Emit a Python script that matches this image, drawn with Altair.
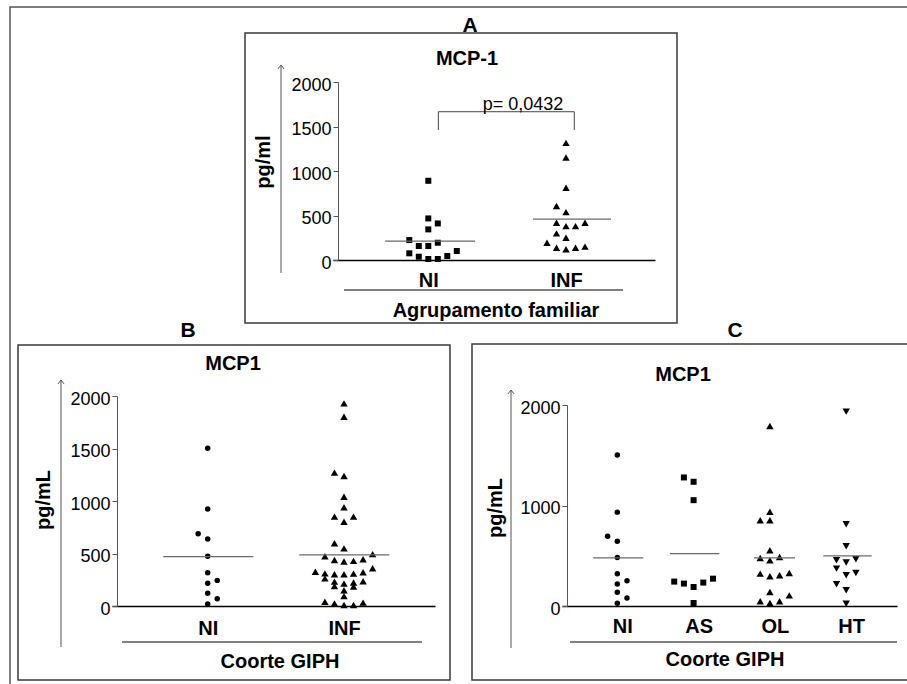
import pandas as pd
import altair as alt

W, H = 907, 684
FONT = "Liberation Sans"

# ---------------- values ----------------
# Panel A  (MCP-1, Agrupamento familiar)
A_CATEGORIES = ["NI", "INF"]
A_NI_VALUES = [890, 467, 411, 344, 224, 194, 157, 157, 75, 101, 45, 37, 11, 11]
A_NI_LANES = [0, 0, 1, 0, -2, 1, -1, 0, -2, 3, 2, -1, 0, 1]
A_INF_VALUES = [1316, 1151, 811, 606, 538, 419, 381, 381, 419, 299, 250, 194, 138, 120, 138, 150]
A_INF_LANES = [0, 0, 0, -1, 0, -1, 0, 1, 2, -1, 0, -2, -1, 0, 1, 2]
A_MEDIANS = [213, 460]
A_MEDIAN_SPAN = [[-0.314, 0.339], [-0.240, 0.327]]
A_TICKS = [0, 500, 1000, 1500, 2000]
A_BRACKET_X = [0.073, 0.073, 1.060, 1.060]
A_BRACKET_Y = [1461, 1666, 1666, 1461]
A_PVALUE = "p= 0,0432"

# Panel B  (MCP1, Coorte GIPH)
B_CATEGORIES = ["NI", "INF"]
B_NI_VALUES = [1502, 924, 689, 638, 473, 317, 244, 216, 121, 70, 19]
B_NI_LANES = [0, 0, -1, 0, 0, 0, 1, 0, 0, 1, 0]
B_INF_VALUES = [1930, 1803, 1270, 1238, 1041, 940, 851, 851, 803, 597, 549,
                494, 473, 438, 424, 430, 446,
                359, 327, 311, 303, 303, 308, 322,
                263, 232, 213, 224, 236,
                190, 150, 185, 95,
                41, 25, 10, 10, 32]
B_INF_LANES = [0, 0, -1, 0, 0, 0, -1, 1, 0, -1, 0,
               3, -2, -1, 0, 1, 2,
               3, -3, -2, -1, 0, 1, 2,
               -2, -1, 0, 1, 2,
               -1, 0, 1, 0,
               -2, -1, 0, 1, 2]
B_MEDIANS = [470, 486]
B_MEDIAN_SPAN = [[-0.326, 0.335], [-0.328, 0.332]]
B_TICKS = [0, 500, 1000, 1500, 2000]

# Panel C  (MCP1, Coorte GIPH by group)
C_CATEGORIES = ["NI", "AS", "OL", "HT"]
C_NI_VALUES = [1502, 934, 694, 645, 482, 322, 252, 219, 136, 80, 27]
C_NI_LANES = [0, 0, -1, 0, 0, 0, 1, 0, 0, 1, 0]
C_AS_VALUES = [1279, 1236, 1053, 243, 223, 189, 233, 272, 30]
C_AS_LANES = [-1, 0, 0, -2, -1, 0, 1, 2, 0]
C_OL_VALUES = [1791, 937, 854, 854, 555, 478, 455, 488, 322, 296, 306, 329, 140, 106, 47, 30, 47]
C_OL_LANES = [0, 0, -1, 0, 0, -1, 0, 1, -1, 0, 1, 2, 0, 2, -1, 0, 1]
C_HT_VALUES = [1934, 814, 595, 455, 432, 465, 372, 306, 329, 216, 156, 23]
C_HT_LANES = [0, 0, 0, -1, 0, 1, -1, 0, 1, -1, 0, 0]
C_MEDIANS = [478, 522, 478, 498]
C_MEDIAN_SPAN = [[-0.315, 0.341], [-0.309, 0.337], [-0.208, 0.329], [-0.300, 0.334]]
C_TICKS = [0, 1000, 2000]

# ---------------- layout (pixels) ----------------
PANELS = {
    "A": dict(xdom=[-0.6921, 1.6463], xrange=[333, 655], yrange=[260, 82],
              yaxis_at=338, xaxis_at=260, lane=0.069, label_pad=10, label_off=0),
    "B": dict(xdom=[-0.7021, 1.6676], xrange=[112, 435], yrange=[606, 396],
              yaxis_at=117, xaxis_at=606, lane=0.070, label_pad=12, label_off=0),
    "C": dict(xdom=[-0.7248, 3.6658], xrange=[562, 897], yrange=[606, 405],
              yaxis_at=567, xaxis_at=606, lane=0.127, label_pad=10, label_off=5),
}
AXIS_GREY = "#555555"
MEDIAN_GREY = "#6a6a6a"


def one_row():
    return pd.DataFrame({"k": [0]})


def scales(cfg):
    xs = alt.Scale(domain=cfg["xdom"], range=cfg["xrange"], nice=False, zero=False)
    ys = alt.Scale(domain=[0, 2000], range=cfg["yrange"], nice=False, zero=False)
    return xs, ys


def panel_layers(cfg, categories, ticks, groups, medians, spans):
    xs, ys = scales(cfg)
    layers = []
    for gi, (vals, lanes, shape, size) in enumerate(groups):
        df = pd.DataFrame({"x": [gi + l * cfg["lane"] for l in lanes], "v": vals})
        if gi == 0:
            expr = "[" + ",".join("'%s'" % c for c in categories) + "][round(datum.value)]"
            xax = alt.Axis(orient="bottom", offset=cfg["xaxis_at"] - H,
                           values=list(range(len(categories))), labelExpr=expr,
                           ticks=False, tickSize=0, grid=False, title=None,
                           domainColor="black", domainWidth=1.4,
                           labelFont=FONT, labelFontSize=20, labelFontWeight="bold",
                           labelColor="black", labelPadding=cfg["label_pad"],
                           labelOffset=cfg["label_off"], labelFlush=False)
            yax = alt.Axis(orient="left", offset=-cfg["yaxis_at"], values=ticks,
                           format="d", grid=False, title=None,
                           domainColor=AXIS_GREY, tickColor=AXIS_GREY, tickSize=5,
                           labelFont=FONT, labelFontSize=18, labelColor="black",
                           labelPadding=2, labelOffset=3)
            x_enc = alt.X("x:Q", scale=xs, axis=xax)
            y_enc = alt.Y("v:Q", scale=ys, axis=yax)
        else:
            x_enc = alt.X("x:Q", scale=xs, axis=None)
            y_enc = alt.Y("v:Q", scale=ys, axis=None)
        layers.append(
            alt.Chart(df).mark_point(shape=shape, filled=True, size=size,
                                     color="black", opacity=1)
            .encode(x=x_enc, y=y_enc)
        )
    med = pd.DataFrame({
        "x1": [i + s[0] for i, s in enumerate(spans)],
        "x2": [i + s[1] for i, s in enumerate(spans)],
        "m": medians,
    })
    layers.append(
        alt.Chart(med).mark_rule(color=MEDIAN_GREY, strokeWidth=1.3)
        .encode(x=alt.X("x1:Q", scale=xs, axis=None), x2="x2:Q",
                y=alt.Y("m:Q", scale=ys, axis=None))
    )
    return layers


def rule(x1, y1, x2, y2, color="black", width=1.0):
    return alt.Chart(one_row()).mark_rule(color=color, strokeWidth=width).encode(
        x=alt.value(x1), x2=alt.value(x2), y=alt.value(y1), y2=alt.value(y2))


def box(x1, y1, x2, y2, color="#3a3a3a", width=1.5):
    return alt.Chart(one_row()).mark_rect(fillOpacity=0, stroke=color, strokeWidth=width).encode(
        x=alt.value(x1), x2=alt.value(x2), y=alt.value(y1), y2=alt.value(y2))


def label(s, x, y, size=20, bold=True, angle=0):
    return alt.Chart(one_row()).mark_text(
        text=s, font=FONT, fontSize=size, fontWeight="bold" if bold else "normal",
        align="center", baseline="alphabetic", angle=angle, color="black"
    ).encode(x=alt.value(x), y=alt.value(y))


def arrow(x, y_top, y_bottom):
    return [
        rule(x, y_top, x, y_bottom, color=AXIS_GREY, width=1),
        alt.Chart(one_row()).mark_point(shape="M-1,1.3L0,0L1,1.3", filled=False, size=36,
                                        color=AXIS_GREY, strokeWidth=1, opacity=1)
        .encode(x=alt.value(x), y=alt.value(y_top)),
    ]


layers = []
# frames
layers.append(box(10, 7, 930, 710, color="#555555", width=1.5))
layers.append(box(245, 33, 677, 323))
layers.append(box(18, 345, 450, 680))
layers.append(box(472, 344, 930, 680))

# panel A
layers += panel_layers(PANELS["A"], A_CATEGORIES, A_TICKS,
                       [(A_NI_VALUES, A_NI_LANES, "square", 36),
                        (A_INF_VALUES, A_INF_LANES, "triangle-up", 55)],
                       A_MEDIANS, A_MEDIAN_SPAN)
xsA, ysA = scales(PANELS["A"])
layers.append(
    alt.Chart(pd.DataFrame({"x": A_BRACKET_X, "y": A_BRACKET_Y, "o": list(range(len(A_BRACKET_X)))}))
    .mark_line(color="#444444", strokeWidth=1)
    .encode(x=alt.X("x:Q", scale=xsA, axis=None), y=alt.Y("y:Q", scale=ysA, axis=None), order="o:O")
)
layers.append(label(A_PVALUE, 523, 110, size=18, bold=False))
layers.append(label("A", 470, 32, size=21))
layers.append(label("MCP-1", 467, 65))
layers.append(label("pg/ml", 270, 162, angle=270))
layers += arrow(281, 65, 273)
layers.append(rule(344, 290, 623, 290))
layers.append(label("Agrupamento familiar", 496, 317))

# panel B
layers += panel_layers(PANELS["B"], B_CATEGORIES, B_TICKS,
                       [(B_NI_VALUES, B_NI_LANES, "circle", 30),
                        (B_INF_VALUES, B_INF_LANES, "triangle-up", 55)],
                       B_MEDIANS, B_MEDIAN_SPAN)
layers.append(label("B", 188, 337, size=21))
layers.append(label("MCP1", 233, 370))
layers.append(label("pg/mL", 50, 500, angle=270))
layers += arrow(61, 380, 647)
layers.append(rule(122, 642, 422, 642))
layers.append(label("Coorte GIPH", 280, 668))

# panel C
layers += panel_layers(PANELS["C"], C_CATEGORIES, C_TICKS,
                       [(C_NI_VALUES, C_NI_LANES, "circle", 30),
                        (C_AS_VALUES, C_AS_LANES, "square", 36),
                        (C_OL_VALUES, C_OL_LANES, "triangle-up", 55),
                        (C_HT_VALUES, C_HT_LANES, "triangle-down", 55)],
                       C_MEDIANS, C_MEDIAN_SPAN)
layers.append(label("C", 735, 337, size=21))
layers.append(label("MCP1", 683, 381))
layers.append(label("pg/mL", 502, 508, angle=270))
layers += arrow(511, 390, 648)
layers.append(rule(570, 642, 897, 642))
layers.append(label("Coorte GIPH", 725, 666))

chart = (
    alt.layer(*layers)
    .resolve_scale(x="independent", y="independent")
    .properties(width=W, height=H, padding=0, autosize=alt.AutoSizeParams(type="none"))
    .configure(font=FONT)
    .configure_view(strokeWidth=0)
)

chart.save("out.html", embed_options={"renderer": "svg", "actions": False})
